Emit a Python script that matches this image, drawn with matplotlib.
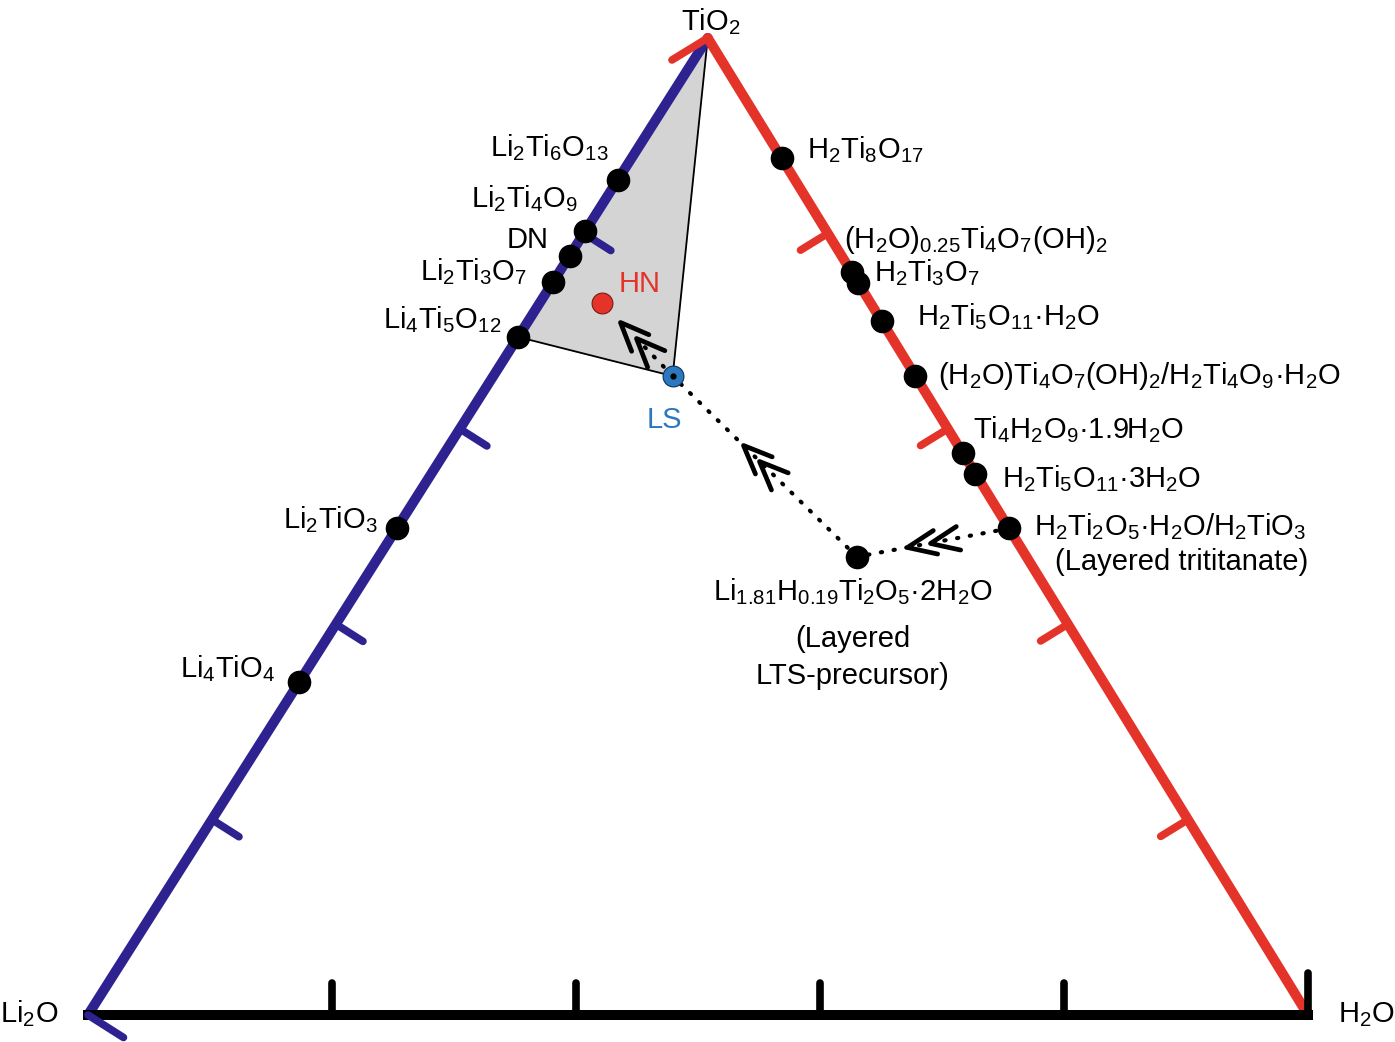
import numpy as np
import matplotlib
matplotlib.use('Agg')
import matplotlib.pyplot as plt
from matplotlib.markers import MarkerStyle
from matplotlib.path import Path
from matplotlib.transforms import Affine2D

plt.rcParams['font.family'] = ['Liberation Sans', 'DejaVu Sans']
plt.rcParams['mathtext.fontset'] = 'custom'
plt.rcParams['mathtext.rm'] = 'Liberation Sans'
plt.rcParams['mathtext.it'] = 'Liberation Sans:italic'
plt.rcParams['mathtext.bf'] = 'Liberation Sans:bold'


def s(t):
    # subscrito em texto normal
    return r'$\mathregular{_{%s}}$' % t


# vertices: (Li2O, H2O, TiO2)
vertices = ['Li' + s(2) + 'O', 'H' + s(2) + 'O', 'TiO' + s(2)]

# aresta Li2O-TiO2: fracao de TiO2
li_nomes = ['Li' + s(2) + 'Ti' + s(6) + 'O' + s(13),
            'Li' + s(2) + 'Ti' + s(4) + 'O' + s(9),
            'DN',
            'Li' + s(2) + 'Ti' + s(3) + 'O' + s(7),
            'Li' + s(4) + 'Ti' + s(5) + 'O' + s(12),
            'Li' + s(2) + 'TiO' + s(3),
            'Li' + s(4) + 'TiO' + s(4)]
li_tio2 = [0.855, 0.802, 0.777, 0.750, 0.694, 0.498, 0.341]

# aresta TiO2-H2O: fracao de TiO2
h_nomes = ['H' + s(2) + 'Ti' + s(8) + 'O' + s(17),
           '(H' + s(2) + 'O)' + s('0.25') + 'Ti' + s(4) + 'O' + s(7) + '(OH)' + s(2),
           'H' + s(2) + 'Ti' + s(3) + 'O' + s(7),
           'H' + s(2) + 'Ti' + s(5) + 'O' + s(11) + '·H' + s(2) + 'O',
           '(H' + s(2) + 'O)Ti' + s(4) + 'O' + s(7) + '(OH)' + s(2) + '/H' + s(2) + 'Ti'
           + s(4) + 'O' + s(9) + '·H' + s(2) + 'O',
           'Ti' + s(4) + 'H' + s(2) + 'O' + s(9) + '·1.9H' + s(2) + 'O',
           'H' + s(2) + 'Ti' + s(5) + 'O' + s(11) + '·3H' + s(2) + 'O',
           'H' + s(2) + 'Ti' + s(2) + 'O' + s(5) + '·H' + s(2) + 'O/H' + s(2) + 'TiO' + s(3)]
h_tio2 = [0.877, 0.760, 0.749, 0.710, 0.654, 0.575, 0.554, 0.498]

# pontos internos (Li2O, H2O, TiO2)
precursor = (0.139, 0.392, 0.469)
ls = (0.199, 0.147, 0.654)
hn = (0.220, 0.051, 0.729)
precursor_nome = ['Li' + s('1.81') + 'H' + s('0.19') + 'Ti' + s(2) + 'O' + s(5) + '·2H' + s(2) + 'O',
                  '(Layered', 'LTS-precursor)']
tritanato_nome = '(Layered trititanate)'

ticks = [0.0, 0.2, 0.4, 0.6, 0.8]

# layout
APEX = 0.508
AZUL = '#2d2290'
VERMELHO = '#e4342a'
AZUL_LS = '#2b78c0'
FS = 21
li_off = [(-9, -23), (-7, -24), (-21, -8), (-26, -2), (-17, -9), (-19, 0), (-24, -5)]
h_off = [(25, 0), (-8, -24), (16, -2), (35, 4), (23, 8), (10, -15), (27, 13), (25, 7)]


def tern(p):
    a, b, c = p
    t = a + b + c
    return np.array([(b + APEX * c) / t, c / t])


fig = plt.figure(figsize=(13.95, 10.42), dpi=100)
ax = fig.add_axes([88 / 1395, 27 / 1042, 1220 / 1395, 977 / 1042])
ax.set_xlim(0, 1)
ax.set_ylim(0, 1)
ax.axis('off')

V_li = tern((1, 0, 0))
V_h = tern((0, 1, 0))
V_ti = tern((0, 0, 1))
centro = (V_li + V_h + V_ti) / 3
T = ax.transData


def risco(p, d_disp, comp, cor, lw):
    pd_ = T.transform(p)
    n = np.array([-d_disp[1], d_disp[0]], dtype=float)
    n /= np.linalg.norm(n)
    if np.dot(n, T.transform(centro) - pd_) < 0:
        n = -n
    fim = T.inverted().transform(pd_ + comp * n)
    ax.plot([p[0], fim[0]], [p[1], fim[1]], color=cor, lw=lw,
            solid_capstyle='round', clip_on=False, zorder=3)


# regiao cinza
p_lto = tern((1 - li_tio2[4], 0, li_tio2[4]))
p_ls = tern(ls)
tri = np.array([V_ti, p_lto, p_ls])
ax.fill(tri[:, 0], tri[:, 1], color='#d4d4d4', zorder=1)
ax.plot([V_ti[0], p_ls[0], p_lto[0]], [V_ti[1], p_ls[1], p_lto[1]],
        color='k', lw=1.3, zorder=2)

# arestas
ax.plot([V_li[0], V_ti[0]], [V_li[1], V_ti[1]], color=AZUL, lw=7.2,
        solid_capstyle='round', zorder=3, clip_on=False)
ax.plot([V_ti[0], V_h[0]], [V_ti[1], V_h[1]], color=VERMELHO, lw=7.2,
        solid_capstyle='round', zorder=3, clip_on=False)
ax.plot([V_li[0], V_h[0]], [V_li[1], V_h[1]], color='k', lw=7.2,
        solid_capstyle='projecting', zorder=3, clip_on=False)

# riscos
d_azul = T.transform(V_ti) - T.transform(V_li)
d_verm = T.transform(V_h) - T.transform(V_ti)
d_preto = T.transform(V_h) - T.transform(V_li)
for t in ticks:
    comp = 42 if t == 0 else 32
    risco(V_li + t * (V_ti - V_li), d_azul, comp, AZUL, 5.5)
    risco(V_ti + t * (V_h - V_ti), d_verm, comp, VERMELHO, 5.5)
    risco(V_h + t * (V_li - V_h), d_preto, comp, 'k', 5.5)

# linhas pontilhadas
p_tri = tern((0, 1 - h_tio2[7], h_tio2[7]))
p_pre = tern(precursor)
p_hn = tern(hn)
pont = dict(color='k', lw=3.0, linestyle=(0, (0.3, 2.8)), dash_capstyle='round', zorder=4)
ax.plot([p_tri[0], p_pre[0]], [p_tri[1], p_pre[1]], **pont)
ax.plot([p_pre[0], p_ls[0]], [p_pre[1], p_ls[1]], **pont)
meio = p_ls + 0.5 * (p_hn - p_ls)
ax.plot([p_ls[0], meio[0]], [p_ls[1], meio[1]], **pont)

# setas duplas
chevron = Path([(-1, 0.42), (0, 0), (-1, -0.42)],
               [Path.MOVETO, Path.LINETO, Path.LINETO])
for cauda, cabeca, fracs in [(p_tri, p_pre, (0.52, 0.67)),
                             (p_pre, p_ls, (0.53, 0.62)),
                             (p_ls, p_hn, (0.52, 0.74))]:
    dd = T.transform(cabeca) - T.transform(cauda)
    ang = np.degrees(np.arctan2(dd[1], dd[0]))
    m = MarkerStyle(chevron, fillstyle='none', transform=Affine2D().rotate_deg(ang),
                    capstyle='round', joinstyle='miter')
    for f in fracs:
        q = cauda + f * (cabeca - cauda)
        ax.plot(q[0], q[1], marker=m, ms=41, mew=3.4, color='k',
                linestyle='none', zorder=6)

# pontos nas arestas
for nome, c, off in zip(li_nomes, li_tio2, li_off):
    p = tern((1 - c, 0, c))
    ax.plot(p[0], p[1], 'o', color='k', ms=16, zorder=7, clip_on=False)
    ax.annotate(nome, p, xytext=(off[0], -off[1]), textcoords='offset pixels',
                ha='right', va='baseline', fontsize=FS)
for nome, c, off in zip(h_nomes, h_tio2, h_off):
    p = tern((0, 1 - c, c))
    ax.plot(p[0], p[1], 'o', color='k', ms=16, zorder=7, clip_on=False)
    ax.annotate(nome, p, xytext=(off[0], -off[1]), textcoords='offset pixels',
                ha='left', va='baseline', fontsize=FS)
ax.annotate(tritanato_nome, p_tri, xytext=(173, -42), textcoords='offset pixels',
            ha='center', va='baseline', fontsize=FS)

# pontos internos
ax.plot(p_pre[0], p_pre[1], 'o', color='k', ms=16, zorder=7)
for nome, dy in zip(precursor_nome, [43, 90, 127]):
    ax.annotate(nome, p_pre, xytext=(-4, -dy), textcoords='offset pixels',
                ha='center', va='baseline', fontsize=FS)
ax.plot(p_hn[0], p_hn[1], 'o', color=VERMELHO, mec='#7a1a14', mew=0.8, ms=15, zorder=7)
ax.annotate('HN', p_hn, xytext=(17, 11), textcoords='offset pixels',
            ha='left', va='baseline', fontsize=FS, color=VERMELHO)
ax.plot(p_ls[0], p_ls[1], 'o', color=AZUL_LS, mec='#0d2f55', mew=0.8, ms=15, zorder=7)
ax.plot(p_ls[0], p_ls[1], 'o', color='k', ms=3.5, zorder=8)
ax.annotate('LS', p_ls, xytext=(-8, -52), textcoords='offset pixels',
            ha='center', va='baseline', fontsize=FS, color=AZUL_LS)

# rotulos dos vertices
ax.annotate(vertices[0], V_li, xytext=(-30, -7), textcoords='offset pixels',
            ha='right', va='baseline', fontsize=FS)
ax.annotate(vertices[1], V_h, xytext=(30, -7), textcoords='offset pixels',
            ha='left', va='baseline', fontsize=FS)
ax.annotate(vertices[2], V_ti, xytext=(3, 8), textcoords='offset pixels',
            ha='center', va='baseline', fontsize=FS)

fig.savefig('out.png', dpi=100)
